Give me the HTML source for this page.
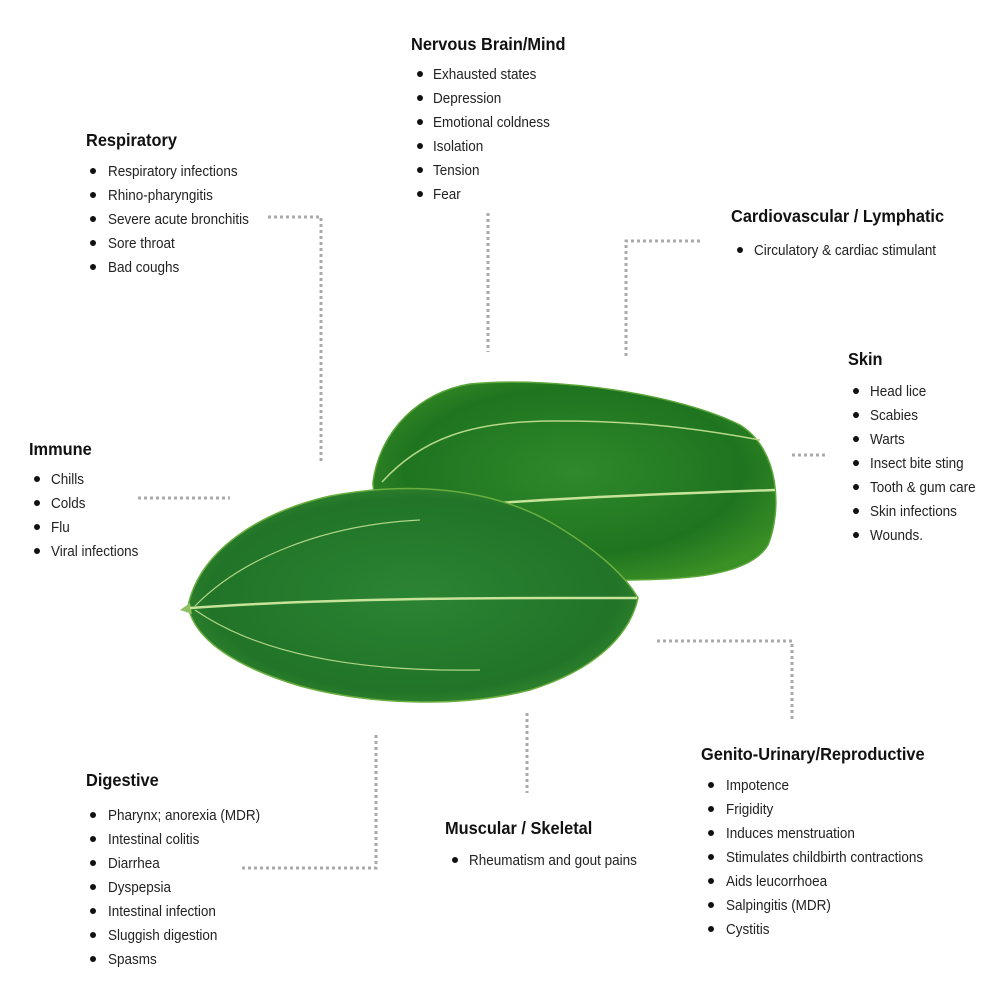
<!DOCTYPE html>
<html><head><meta charset="utf-8"><style>
html,body{margin:0;padding:0;background:#fff;}
svg{display:block}
text{font-family:"Liberation Sans",sans-serif;fill:#111;}
.h{font-weight:bold;font-size:18px;}
.i{font-size:15px;fill:#222;}
</style></head><body>
<svg width="1000" height="1000" viewBox="0 0 1000 1000">
<defs>
<radialGradient id="g1" cx="0.5" cy="0.45" r="0.6">
<stop offset="0" stop-color="#2f8a2a"/><stop offset="0.7" stop-color="#1f7420"/><stop offset="1" stop-color="#3a8f25"/>
</radialGradient>
<radialGradient id="g2" cx="0.5" cy="0.5" r="0.6">
<stop offset="0" stop-color="#2b8433"/><stop offset="0.75" stop-color="#217428"/><stop offset="1" stop-color="#3d9030"/>
</radialGradient>
</defs>
<g fill="none" stroke="#aaa" stroke-width="3" stroke-dasharray="3 3">
<path d="M268 217H321V462"/>
<path d="M488 213V352"/>
<path d="M700 241H626V356"/>
<path d="M792 455H828"/>
<path d="M138 498H230"/>
<path d="M657 641H792V722"/>
<path d="M527 713V793"/>
<path d="M242 868H376V733"/>
</g>
<!-- back leaf -->
<path d="M373 482 C380 430 420 392 470 384 C560 376 680 395 740 425 C780 450 782 510 768 545 C750 575 690 580 620 580 C560 578 470 560 420 530 C390 515 372 500 373 482Z" fill="url(#g1)" stroke="#5aa63a" stroke-width="1.5"/>
<path d="M382 482 C420 440 470 420 560 421 C620 421 680 425 760 440" fill="none" stroke="#b5d88a" stroke-width="1.5"/>
<path d="M470 505 C560 498 660 494 775 490" fill="none" stroke="#c7e39a" stroke-width="2.5"/>
<!-- front leaf -->
<path d="M188 606 C200 550 260 512 330 496 C410 481 490 488 550 522 C595 548 625 575 638 598 C630 635 595 670 530 690 C460 708 370 705 300 686 C240 668 195 642 188 606Z" fill="url(#g2)" stroke="#6aae40" stroke-width="1.5"/>
<path d="M180 610 L190 603 L192 614Z" fill="#8fbf60"/>
<path d="M190 608 C300 600 450 598 560 598 C600 598 620 598 637 598" fill="none" stroke="#c7e39a" stroke-width="2.5"/>
<path d="M195 606 C240 560 320 525 420 520" fill="none" stroke="#b0d486" stroke-width="1.2"/>
<path d="M195 610 C260 655 360 672 480 670" fill="none" stroke="#b0d486" stroke-width="1.2"/>
<g fill="#111">
<circle cx="420" cy="74" r="3"/><circle cx="420" cy="98" r="3"/><circle cx="420" cy="122" r="3"/><circle cx="420" cy="146" r="3"/><circle cx="420" cy="170" r="3"/><circle cx="420" cy="194" r="3"/>
<circle cx="93" cy="171" r="3"/><circle cx="93" cy="195" r="3"/><circle cx="93" cy="219" r="3"/><circle cx="93" cy="243" r="3"/><circle cx="93" cy="267" r="3"/>
<circle cx="740" cy="250" r="3"/>
<circle cx="856" cy="391" r="3"/><circle cx="856" cy="415" r="3"/><circle cx="856" cy="439" r="3"/><circle cx="856" cy="463" r="3"/><circle cx="856" cy="487" r="3"/><circle cx="856" cy="511" r="3"/><circle cx="856" cy="535" r="3"/>
<circle cx="37" cy="479" r="3"/><circle cx="37" cy="503" r="3"/><circle cx="37" cy="527" r="3"/><circle cx="37" cy="551" r="3"/>
<circle cx="711" cy="785" r="3"/><circle cx="711" cy="809" r="3"/><circle cx="711" cy="833" r="3"/><circle cx="711" cy="857" r="3"/><circle cx="711" cy="881" r="3"/><circle cx="711" cy="905" r="3"/><circle cx="711" cy="929" r="3"/>
<circle cx="455" cy="860" r="3"/>
<circle cx="93" cy="815" r="3"/><circle cx="93" cy="839" r="3"/><circle cx="93" cy="863" r="3"/><circle cx="93" cy="887" r="3"/><circle cx="93" cy="911" r="3"/><circle cx="93" cy="935" r="3"/><circle cx="93" cy="959" r="3"/>
</g>
<g transform="translate(411,50) scale(0.91,1)"><text class="h">Nervous Brain/Mind</text></g>
<g transform="translate(433,0) scale(0.9,1)">
<text class="i" y="79">Exhausted states</text><text class="i" y="103">Depression</text><text class="i" y="127">Emotional coldness</text><text class="i" y="151">Isolation</text><text class="i" y="175">Tension</text><text class="i" y="199">Fear</text></g>
<g transform="translate(86,146) scale(0.91,1)"><text class="h">Respiratory</text></g>
<g transform="translate(108,0) scale(0.9,1)">
<text class="i" y="176">Respiratory infections</text><text class="i" y="200">Rhino-pharyngitis</text><text class="i" y="224">Severe acute bronchitis</text><text class="i" y="248">Sore throat</text><text class="i" y="272">Bad coughs</text></g>
<g transform="translate(731,222) scale(0.91,1)"><text class="h">Cardiovascular / Lymphatic</text></g>
<g transform="translate(754,0) scale(0.9,1)"><text class="i" y="255">Circulatory &amp; cardiac stimulant</text></g>
<g transform="translate(848,365) scale(0.91,1)"><text class="h">Skin</text></g>
<g transform="translate(870,0) scale(0.9,1)">
<text class="i" y="396">Head lice</text><text class="i" y="420">Scabies</text><text class="i" y="444">Warts</text><text class="i" y="468">Insect bite sting</text><text class="i" y="492">Tooth &amp; gum care</text><text class="i" y="516">Skin infections</text><text class="i" y="540">Wounds.</text></g>
<g transform="translate(29,455) scale(0.91,1)"><text class="h">Immune</text></g>
<g transform="translate(51,0) scale(0.9,1)">
<text class="i" y="484">Chills</text><text class="i" y="508">Colds</text><text class="i" y="532">Flu</text><text class="i" y="556">Viral infections</text></g>
<g transform="translate(701,760) scale(0.91,1)"><text class="h">Genito-Urinary/Reproductive</text></g>
<g transform="translate(726,0) scale(0.9,1)">
<text class="i" y="790">Impotence</text><text class="i" y="814">Frigidity</text><text class="i" y="838">Induces menstruation</text><text class="i" y="862">Stimulates childbirth contractions</text><text class="i" y="886">Aids leucorrhoea</text><text class="i" y="910">Salpingitis (MDR)</text><text class="i" y="934">Cystitis</text></g>
<g transform="translate(445,834) scale(0.91,1)"><text class="h">Muscular / Skeletal</text></g>
<g transform="translate(469,0) scale(0.9,1)"><text class="i" y="865">Rheumatism and gout pains</text></g>
<g transform="translate(86,786) scale(0.91,1)"><text class="h">Digestive</text></g>
<g transform="translate(108,0) scale(0.9,1)">
<text class="i" y="820">Pharynx; anorexia (MDR)</text><text class="i" y="844">Intestinal colitis</text><text class="i" y="868">Diarrhea</text><text class="i" y="892">Dyspepsia</text><text class="i" y="916">Intestinal infection</text><text class="i" y="940">Sluggish digestion</text><text class="i" y="964">Spasms</text></g>
</svg>
</body></html>
